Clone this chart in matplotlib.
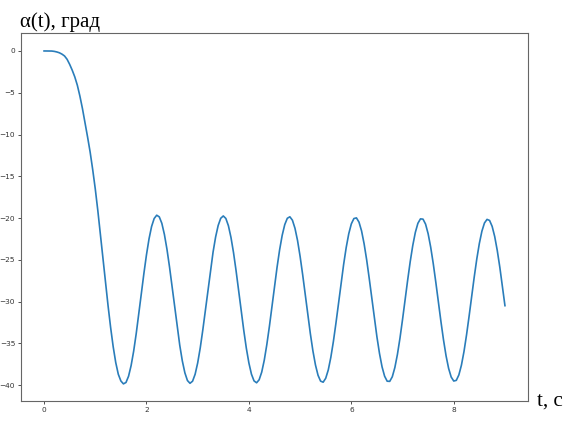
import numpy as np
import matplotlib
matplotlib.use("Agg")
import matplotlib.pyplot as plt

# time samples, s
t = [round(0.05 * i, 2) for i in range(181)]

# alpha(t), degrees
alpha = [
    0.0, 0.0, 0.0, -0.01, -0.05, -0.12, -0.22, -0.38, -0.6, -1.0,
    -1.6, -2.3, -3.1, -4.1, -5.4, -6.9, -8.6, -10.3, -12.1, -14.2,
    -16.5, -19.1, -21.9, -24.8, -27.7, -30.5, -33.1, -35.4, -37.3, -38.7,
    -39.5, -39.85,
    -39.68, -38.94, -37.66, -35.93, -33.82, -31.47, -29.03, -26.62, -24.40, -22.49,
    -21.01, -20.06, -19.66, -19.86, -20.63, -21.96, -23.73, -25.85, -28.22, -30.66,
    -33.05, -35.23, -37.10, -38.53, -39.45, -39.78, -39.53, -38.70, -37.34, -35.54,
    -33.40, -31.05, -28.62, -26.25, -24.09, -22.27, -20.89, -20.03, -19.75, -20.05,
    -20.92, -22.32, -24.15, -26.32, -28.68, -31.11, -33.45, -35.58, -37.35, -38.69,
    -39.49, -39.72, -39.36, -38.45, -37.02, -35.15, -32.99, -30.63, -28.21, -25.89,
    -23.80, -22.07, -20.79, -20.03, -19.85, -20.26, -21.23, -22.69, -24.59, -26.78,
    -29.15, -31.55, -33.84, -35.90, -37.59, -38.82, -39.52, -39.65, -39.18, -38.18,
    -36.67, -34.77, -32.57, -30.21, -27.82, -25.55, -23.53, -21.88, -20.70, -20.06,
    -19.98, -20.49, -21.54, -23.09, -25.02, -27.24, -29.60, -31.97, -34.22, -36.20,
    -37.81, -38.93, -39.53, -39.55, -39.00, -37.90, -36.33, -34.38, -32.15, -29.79,
    -27.44, -25.22, -23.28, -21.72, -20.63, -20.10, -20.13, -20.73, -21.88, -23.49,
    -25.46, -27.69, -30.05, -32.39, -34.58, -36.49, -38.00, -39.03, -39.51, -39.43,
    -38.78, -37.61, -35.98, -33.98, -31.74, -29.39, -27.06, -24.90, -23.04, -21.57,
    -20.59, -20.16, -20.29, -21.00, -22.22, -23.89, -25.90, -28.15, -30.49,
]

xticks = [0, 2, 4, 6, 8]
yticks = [0, -5, -10, -15, -20, -25, -30, -35, -40]

fig = plt.figure(figsize=(5.74, 4.21), dpi=100)
ax = fig.add_axes([21 / 574, 1 - 401 / 421, (528 - 21) / 574, (401 - 33) / 421])
ax.plot(t, alpha, color="#2a7dba", lw=1.2)
ax.set_ylim(-41.9, 2.15)

ax.set_xticks(xticks)
ax.set_yticks(yticks)
ax.tick_params(labelsize=5.3, length=2.2, width=0.6, pad=2, colors="#333333")
for s in ax.spines.values():
    s.set_linewidth(0.8)
    s.set_color("#666666")

fig.text(20 / 574, 1 - 27 / 421, "α(t), град", family="Liberation Serif",
         fontsize=15, ha="left", va="baseline", color="black")
fig.text(537 / 574, 1 - 406 / 421, "t, c", family="Liberation Serif",
         fontsize=15, ha="left", va="baseline", color="black")

fig.savefig("out.png", dpi=100)
